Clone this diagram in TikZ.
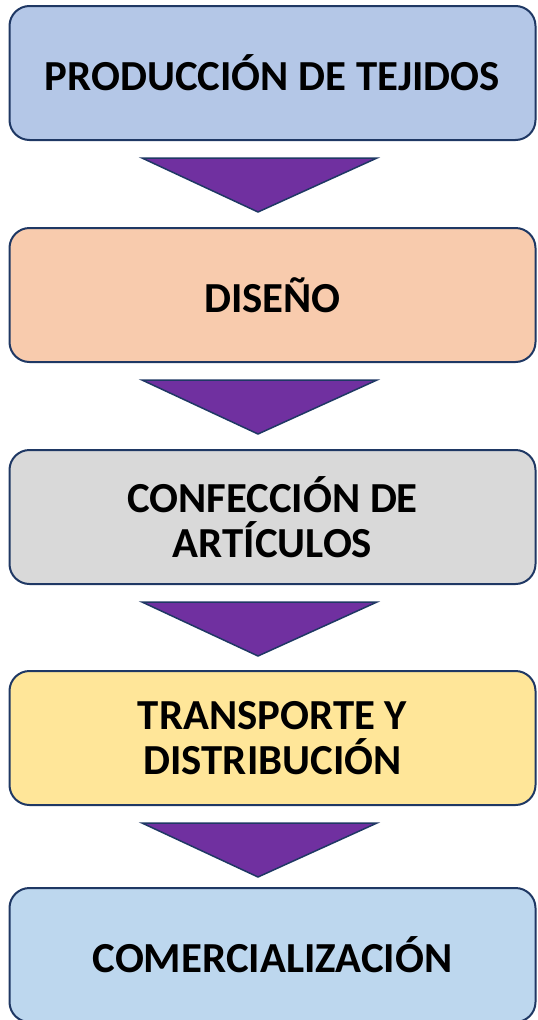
\documentclass[tikz,border=0pt]{standalone}
\usepackage{fontspec}
\setmainfont{Carlito}
\usepackage{tikz}
\usetikzlibrary{positioning}
\usetikzlibrary{calc}
\definecolor{navy}{HTML}{1F3864}
\definecolor{paleblue}{HTML}{B4C7E7}
\definecolor{peach}{HTML}{F8CBAD}
\definecolor{palegray}{HTML}{D9D9D9}
\definecolor{paleyellow}{HTML}{FFE699}
\definecolor{skyblue}{HTML}{BDD7EE}
\definecolor{grape}{HTML}{7030A0}

\begin{document}
\begin{tikzpicture}[x=1pt,y=-1pt,node distance=86pt,
            stage node/.style={draw=navy,line width=2pt,rounded corners=20pt,
                minimum width=526pt,minimum height=134pt,inner sep=0pt,align=center,
                font=\fontsize{42.8}{45}\selectfont\bfseries},
            down tri/.style={draw=navy,fill=grape,line width=1.5pt}
            ]
            \useasboundingbox (0,0) rectangle (538,1020);

            \node[stage node,fill=paleblue](1) at (272.5,73){PRODUCCIÓN DE TEJIDOS};
            \node[stage node,fill=peach](2)[below=of 1]{DISEÑO};
            \node[stage node,fill=palegray](3)[below=of 2]{CONFECCIÓN DE\\ARTÍCULOS};
            \node[stage node,fill=paleyellow](4)[below=85pt of 3]{TRANSPORTE Y\\DISTRIBUCIÓN};
            \node[stage node,fill=skyblue](5)[below=81pt of 4]{COMERCIALIZACIÓN};

            % flechas entre etapas
            \foreach \a in {1,2,3,4}
              \draw[down tri] ($(\a.south)+(-130.5,17)$) -- ($(\a.south)+(104.5,17)$)
                -- ($(\a.south)+(-14.5,71)$) -- cycle;

\end{tikzpicture}
\end{document}
